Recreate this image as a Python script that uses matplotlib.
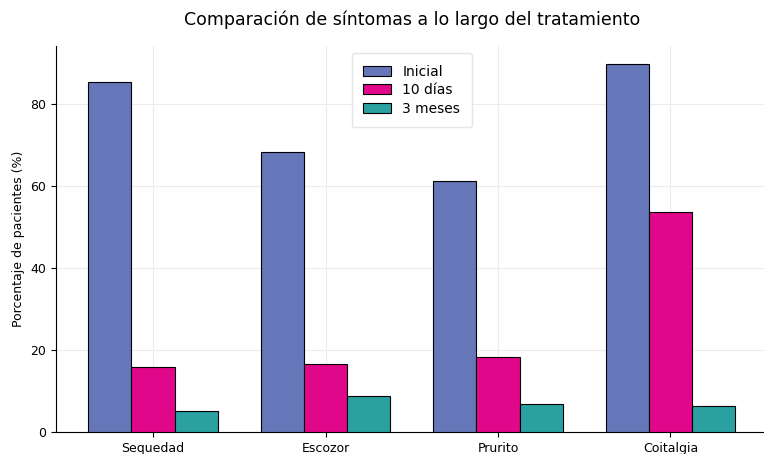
import numpy as np
import matplotlib.pyplot as plt

# Symptoms and percentages of patients at each time point
sintomas = ["Sequedad", "Escozor", "Prurito", "Coitalgia"]
inicial = [85.6, 68.5, 61.4, 89.8]
diez_dias = [15.8, 16.5, 18.4, 53.8]
tres_meses = [5.2, 8.8, 6.9, 6.4]

series = [("Inicial", inicial, "#6677b9"),
          ("10 días", diez_dias, "#e1078a"),
          ("3 meses", tres_meses, "#2aa0a1")]

fig = plt.figure(figsize=(7.64, 4.54), dpi=100)
ax = fig.add_axes([56 / 764, 22 / 454, 711.5 / 764, 386 / 454])

x = np.arange(len(sintomas))
width = 0.25
for i, (name, vals, color) in enumerate(series):
    ax.bar(x + (i - 1) * width, vals, width, label=name, color=color,
           edgecolor="black", linewidth=0.8, zorder=3)

ax.set_xticks(x)
ax.set_xticklabels(sintomas, fontsize=9)
ax.tick_params(axis="y", labelsize=9)
ax.set_ylabel("Porcentaje de pacientes (%)", fontsize=9)
ax.set_ylim(0, max(inicial) * 1.05)
ax.grid(True, color="#ececec", linewidth=0.8, zorder=0)
ax.spines["top"].set_visible(False)
ax.spines["right"].set_visible(False)

leg = ax.legend(loc="upper center", fontsize=10, framealpha=1,
                bbox_to_anchor=(0.5, 1.0), borderpad=0.85,
                labelspacing=0.32)
leg.get_frame().set_edgecolor("#e5e5e5")

fig.text(412 / 764, 1 - 20 / 454, "Comparación de síntomas a lo largo del tratamiento",
         ha="center", va="center", fontsize=12.5)

fig.savefig("out.png", dpi=100)
